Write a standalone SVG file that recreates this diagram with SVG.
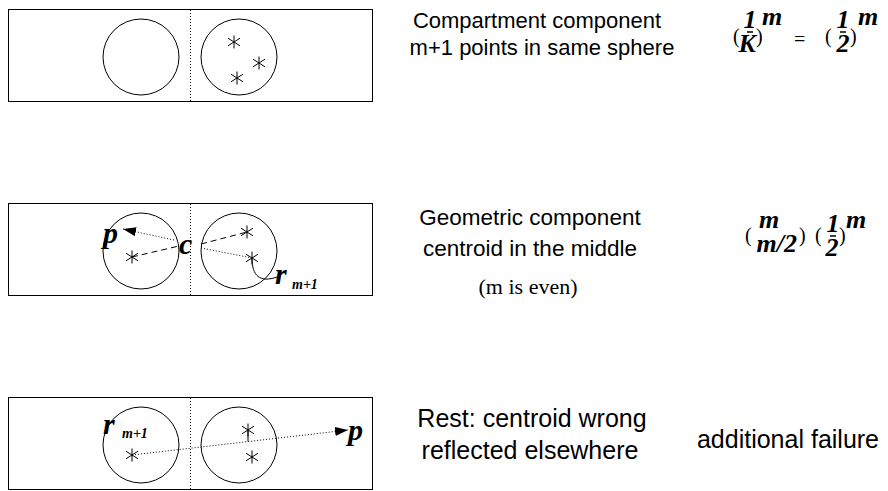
<svg xmlns="http://www.w3.org/2000/svg" width="888" height="491" viewBox="0 0 888 491">
  <defs>
    <style>
      .box { fill: none; stroke: #000; stroke-width: 1; }
      .sphere { fill: none; stroke: #000; stroke-width: 1; }
      .divider { stroke: #000; stroke-width: 1; stroke-dasharray: 1 2; }
      .dotted { fill: none; stroke: #000; stroke-width: 1; stroke-dasharray: 1 2; }
      .dashed { fill: none; stroke: #000; stroke-width: 1; stroke-dasharray: 6 4; }
      .solid { fill: none; stroke: #000; stroke-width: 1; }
      .label { font-family: "Liberation Sans", Arial, sans-serif; fill: #000; text-anchor: middle; }
      .serif { font-family: "Liberation Serif", "Times New Roman", serif; font-size: 22px; fill: #000; text-anchor: middle; }
      .math { font-family: "Liberation Serif", "Times New Roman", serif; font-weight: bold; font-style: italic; fill: #000; }
      .formula { font-family: "Liberation Serif", "Times New Roman", serif; font-size: 26px; font-weight: bold; font-style: italic; fill: #000; }
      .paren { font-size: 20px; font-weight: normal; font-style: normal; }
      .bar { stroke: #000; stroke-width: 1.5; }
    </style>
    <g id="star">
      <line x1="0" y1="-6.5" x2="0" y2="6.5" stroke="#000" stroke-width="1"/>
      <line x1="-6" y1="-3.8" x2="6" y2="3.8" stroke="#000" stroke-width="1"/>
      <line x1="-6" y1="3.8" x2="6" y2="-3.8" stroke="#000" stroke-width="1"/>
    </g>
    <marker id="head" viewBox="0 0 13 9" refX="13" refY="4.5" markerWidth="13" markerHeight="9" markerUnits="userSpaceOnUse" orient="auto">
      <path d="M0,0 L13,4.5 L0,9 Z" fill="#000"/>
    </marker>
  </defs>

  <!-- case 1: all points in one compartment -->
  <g id="case-compartment">
    <rect class="box" x="8.5" y="9.5" width="364" height="92"/>
    <line class="divider" x1="190.5" y1="10" x2="190.5" y2="101"/>
    <circle class="sphere" cx="141" cy="57" r="38"/>
    <circle class="sphere" cx="239" cy="57" r="38"/>
    <use href="#star" x="234" y="42"/>
    <use href="#star" x="259" y="63"/>
    <use href="#star" x="237" y="78"/>
  </g>
  <g id="text-compartment">
    <text class="label" x="537" y="28" font-size="22">Compartment component</text>
    <text class="label" x="542" y="55" font-size="22">m+1 points in same sphere</text>
  </g>
  <g id="formula-compartment">
    <text class="formula"><tspan class="paren" x="733" y="43">(</tspan><tspan x="743.5" y="28">1</tspan><tspan x="738.5" y="52">K</tspan><tspan class="paren" x="756" y="43">)</tspan><tspan x="762" y="25">m</tspan><tspan class="paren" x="794" y="46">=</tspan><tspan class="paren" x="825" y="43">(</tspan><tspan x="836.5" y="28">1</tspan><tspan x="836.5" y="52">2</tspan><tspan class="paren" x="850" y="43">)</tspan><tspan x="858" y="25">m</tspan></text>
    <line class="bar" x1="747" y1="32" x2="753" y2="32"/>
    <line class="bar" x1="840" y1="32" x2="846" y2="32"/>
  </g>

  <!-- case 2: centroid in the middle -->
  <g id="case-geometric">
    <rect class="box" x="8.5" y="203.5" width="364" height="92"/>
    <line class="divider" x1="190.5" y1="204" x2="190.5" y2="295"/>
    <circle class="sphere" cx="141" cy="251" r="38"/>
    <circle class="sphere" cx="239" cy="251" r="38"/>
    <use href="#star" x="132" y="257"/>
    <use href="#star" x="247" y="232"/>
    <use href="#star" x="252" y="258"/>
    <text class="math" x="179" y="254" font-size="30">c</text>
    <text class="math" x="103" y="243" font-size="30">p</text>
    <text class="math" x="275" y="284" font-size="30">r</text>
    <text class="math" x="292" y="289" font-size="14">m+1</text>
  </g>
  <g id="connectors">
    <line class="dashed" x1="132" y1="257" x2="179" y2="246"/>
    <line class="dashed" x1="201" y1="244" x2="247" y2="232"/>
    <line class="dotted" x1="174" y1="240" x2="123" y2="229" marker-end="url(#head)"/>
    <line class="dotted" x1="201" y1="248" x2="252" y2="258"/>
    <path class="solid" d="M252,258 C252,276 260,283 277,277"/>
    <line class="dotted" x1="132" y1="455" x2="348" y2="430" marker-end="url(#head)"/>
    <line class="solid" x1="248" y1="430" x2="248" y2="441.5"/>
  </g>
  <g id="text-geometric">
    <text class="label" x="530" y="225" font-size="22.5">Geometric component</text>
    <text class="label" x="530" y="256" font-size="22.5">centroid in the middle</text>
    <text class="serif" x="528" y="294">(m is even)</text>
  </g>
  <g id="formula-geometric">
    <text class="formula"><tspan class="paren" x="745" y="242">(</tspan><tspan x="759" y="228">m</tspan><tspan x="756.5" y="252">m/2</tspan><tspan class="paren" x="799" y="242">)</tspan><tspan class="paren" x="815" y="242">(</tspan><tspan x="826.5" y="232">1</tspan><tspan x="825.5" y="256">2</tspan><tspan class="paren" x="839" y="242">)</tspan><tspan x="846" y="228">m</tspan></text>
    <line class="bar" x1="830" y1="236" x2="836" y2="236"/>
  </g>

  <!-- case 3: centroid elsewhere -->
  <g id="case-rest">
    <rect class="box" x="8.5" y="397.5" width="364" height="92"/>
    <line class="divider" x1="190.5" y1="398" x2="190.5" y2="489"/>
    <circle class="sphere" cx="141" cy="445" r="38"/>
    <circle class="sphere" cx="239" cy="445" r="38"/>
    <use href="#star" x="132" y="455"/>
    <use href="#star" x="248" y="430"/>
    <use href="#star" x="252" y="457"/>
    <text class="math" x="103" y="434" font-size="30">r</text>
    <text class="math" x="122" y="438" font-size="14">m+1</text>
    <text class="math" x="348" y="440" font-size="30">p</text>
  </g>
  <g id="text-rest">
    <text class="label" x="532" y="427" font-size="25">Rest: centroid wrong</text>
    <text class="label" x="530" y="459" font-size="25">reflected elsewhere</text>
    <text class="label" x="788" y="448" font-size="25">additional failure</text>
  </g>
</svg>
